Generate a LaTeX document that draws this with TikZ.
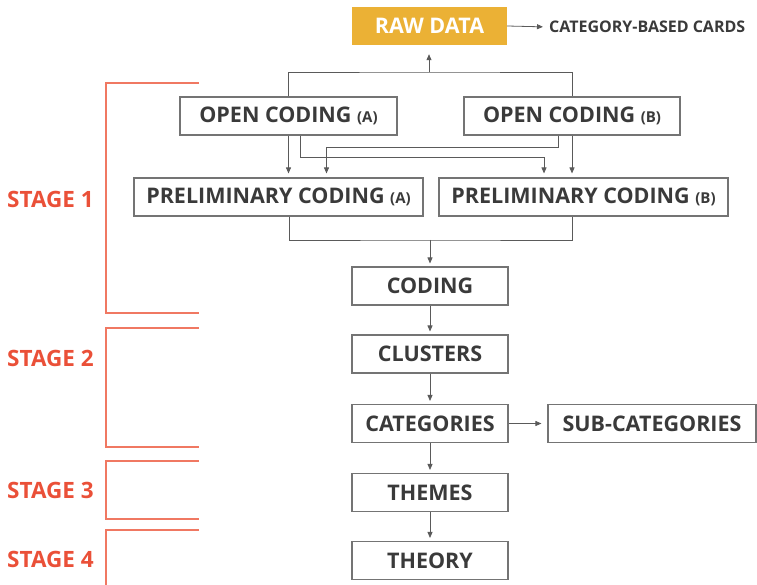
\documentclass[tikz,border=0pt]{standalone}
\usepackage{fontspec}
\setmainfont{Open Sans}
\usetikzlibrary{arrows.meta}
\definecolor{rawfill}{HTML}{EBB135}
\definecolor{boxline}{HTML}{747474}
\definecolor{boxtext}{HTML}{3A3A3A}
\definecolor{wire}{HTML}{5A5A5A}
\definecolor{stagered}{HTML}{EA5038}
\definecolor{bracketred}{HTML}{F07862}
\newcommand{\tagsize}[1]{{\fontsize{15}{15}\selectfont #1}}
\tikzset{
  procbox/.style={draw=boxline, line width=1.1pt, fill=white, text=boxtext,
    font=\fontsize{21.5}{21.5}\selectfont\bfseries, inner sep=0pt,
    minimum height=38pt, anchor=center},
  rawbox/.style={fill=rawfill, text=white,
    font=\fontsize{21.5}{21.5}\selectfont\bfseries, inner sep=0pt,
    minimum width=155pt, minimum height=38pt},
  wireline/.style={draw=wire, line width=0.8pt},
  flow/.style={wireline, -{Triangle[length=6pt,width=5pt]}, shorten >=4pt},
  stagebracket/.style={draw=bracketred, line width=1.3pt},
  stagelabel/.style={text=stagered, font=\fontsize{22.5}{22.5}\selectfont\bfseries,
    anchor=west, inner sep=0pt}
}
\begin{document}
\begin{tikzpicture}[x=1pt, y=-1pt]
\useasboundingbox (0,0) rectangle (757,585);

% source and its side output
\node[rawbox] (raw) at (429.5,26) {RAW DATA};
\node[anchor=west, inner sep=0pt, text=boxtext,
  font=\fontsize{16}{16}\selectfont\bfseries] (cards) at (549,27) {CATEGORY-BASED CARDS};

% open and preliminary coding
\node[procbox, minimum width=217pt] (oca) at (288.5,116) {OPEN CODING \tagsize{(A)}};
\node[procbox, minimum width=216pt] (ocb) at (572,116) {OPEN CODING \tagsize{(B)}};
\node[procbox, minimum width=289pt] (pca) at (278.5,197) {PRELIMINARY CODING \tagsize{(A)}};
\node[procbox, minimum width=289pt] (pcb) at (583.5,197) {PRELIMINARY CODING \tagsize{(B)}};

% main column
\node[procbox, minimum width=156pt] (coding) at (430,286) {CODING};
\node[procbox, minimum width=156pt] (clusters) at (430,354) {CLUSTERS};
\node[procbox, minimum width=156pt] (categories) at (430,423.5) {CATEGORIES};
\node[procbox, minimum width=208pt] (subcat) at (652,423.5) {SUB-CATEGORIES};
\node[procbox, minimum width=156pt] (themes) at (430,492.5) {THEMES};
\node[procbox, minimum width=156pt] (theory) at (430,560.5) {THEORY};

% open coding feeds back to the raw data
\coordinate (topjoin) at (429,72);
\draw[wireline] (oca.north) |- (topjoin) -| (ocb.north);
\draw[flow, shorten >=9pt] (topjoin) -- (raw.south -| topjoin);
\draw[flow, shorten >=6pt] (raw.east) -- (cards.west);

% open coding to preliminary coding
\draw[flow] (oca.south) -- (oca.south |- pca.north);
\draw[flow] (ocb.south) -- (ocb.south |- pcb.north);
\coordinate (crossA) at (0,157);
\coordinate (crossB) at (0,147);
\draw[flow] ([xshift=12pt]oca.south) |- ([xshift=-39.5pt]pcb.north |- crossA)
  -- ([xshift=-39.5pt]pcb.north);
\draw[flow] ([xshift=-14pt]ocb.south) |- ([xshift=48pt]pca.north |- crossB)
  -- ([xshift=48pt]pca.north);

% preliminary coding merges into coding
\coordinate (midjoin) at (430,240);
\draw[wireline] ([xshift=10.5pt]pca.south) |- (midjoin) -| ([xshift=-11.5pt]pcb.south);
\draw[flow, shorten >=3pt] (midjoin) -- (coding.north);

% down the main column
\draw[flow, shorten >=3pt] (coding.south) -- (clusters.north);
\draw[flow, shorten >=3pt] (clusters.south) -- (categories.north);
\draw[flow, shorten >=3pt] (categories.south) -- (themes.north);
\draw[flow, shorten >=3pt] (themes.south) -- (theory.north);
\draw[flow, shorten >=6pt] (categories.east) -- (subcat.west);

% stage brackets
\draw[stagebracket] (199,83) -| (106,313) -- (199,313);
\draw[stagebracket] (199,328) -| (106,447) -- (199,447);
\draw[stagebracket] (199,461) -| (106,519) -- (199,519);
\draw[stagebracket] (199,530) -| (106,586);

% stage labels
\node[stagelabel] (s1) at (7,199.5) {STAGE 1};
\node[stagelabel] (s2) at (7,358) {STAGE 2};
\node[stagelabel] (s3) at (7,490) {STAGE 3};
\node[stagelabel] (s4) at (7,559) {STAGE 4};
\end{tikzpicture}
\end{document}
